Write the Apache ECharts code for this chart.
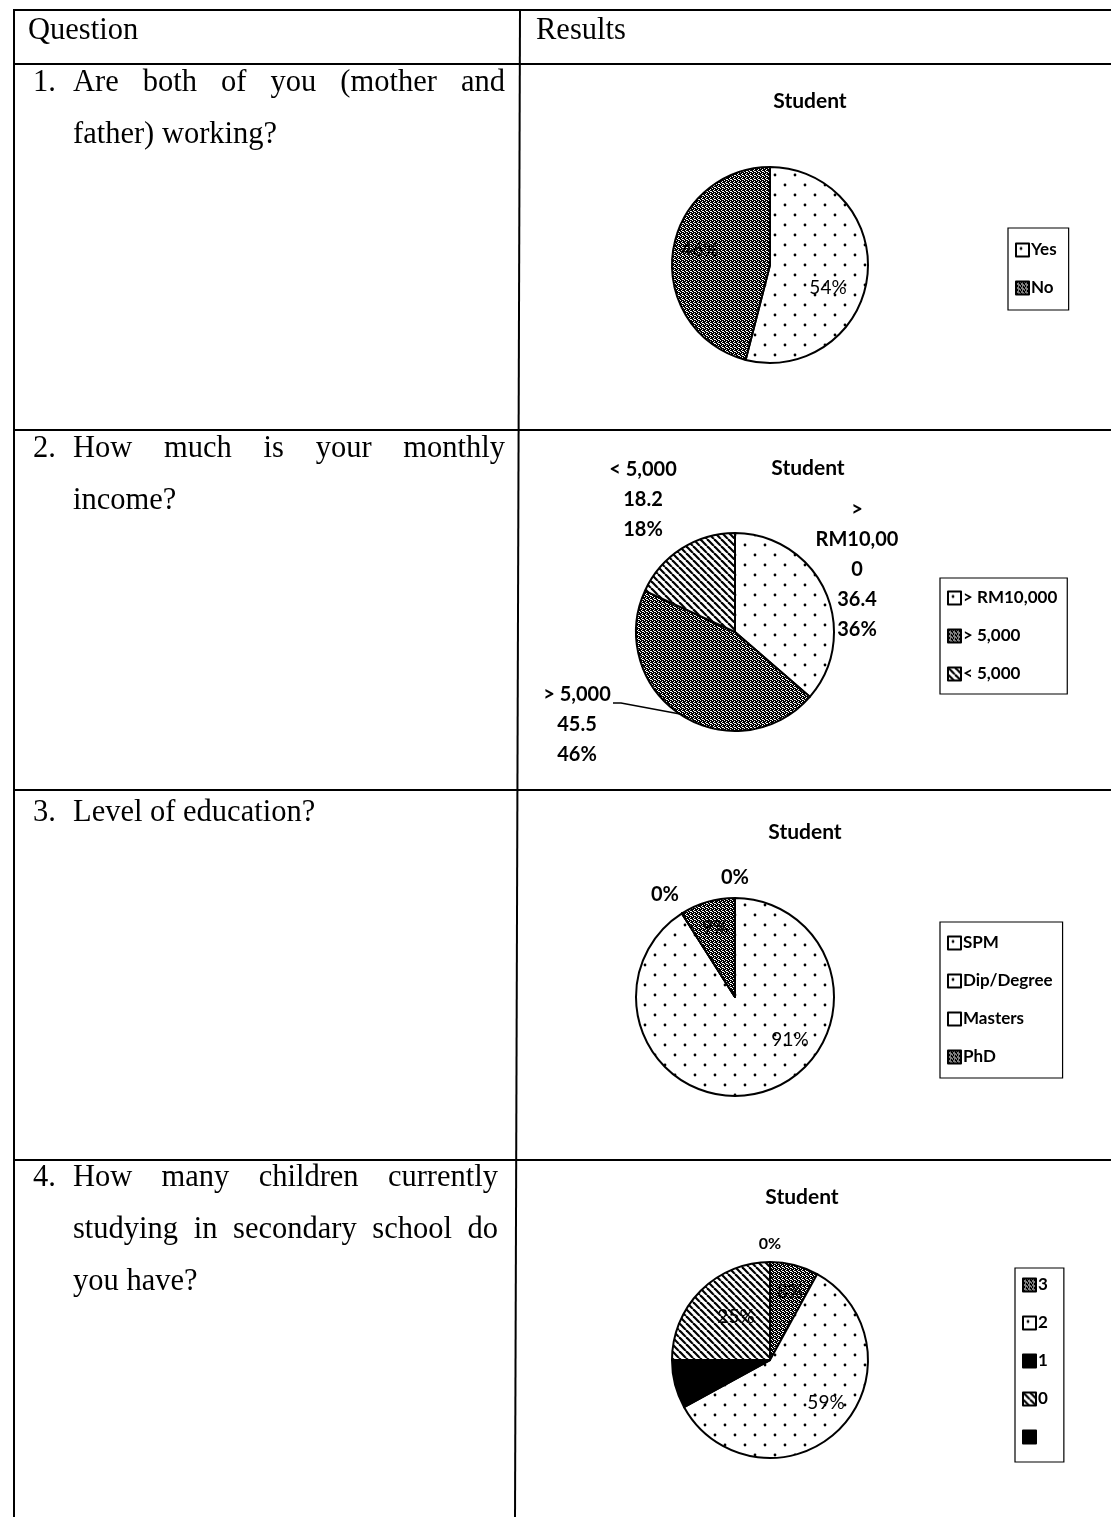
<!DOCTYPE html>
<html><head><meta charset="utf-8">
<script src="https://cdn.jsdelivr.net/npm/echarts@6/dist/echarts.min.js"></script>
<style>html,body{margin:0;padding:0;background:#fff}#c{width:1111px;height:1517px}</style>
</head><body><div id="c"></div>
<script>
// ---------- data ----------
const chartTitle = 'Student';
const q1Categories = ['Yes', 'No'];
const q1Values = [54, 46];
const q2Categories = ['> RM10,000', '> 5,000', '< 5,000'];
const q2Values = [36.4, 45.5, 18.2];
const q3Categories = ['SPM', 'Dip/Degree', 'Masters', 'PhD'];
const q3Values = [91, 0, 0, 9];
const q4Categories = ['3', '2', '1', '0', ' '];
const q4Values = [8, 59, 8, 25, 0];
const headerLabels = ['Question', 'Results'];
const questionTexts = [
  {num: '1.', lines: [['Are both of you (mother and', true], ['father) working?', false]]},
  {num: '2.', lines: [['How much is your monthly', true], ['income?', false]]},
  {num: '3.', lines: [['Level of education?', false]]},
  {num: '4.', lines: [['How many children currently', true], ['studying in secondary school do', true], ['you have?', false]]}
];

// ---------- styles ----------
const SANS = 'Lato';
const SERIF = 'Liberation Serif';
const SERIF_SIZE = 30.5;

function makePattern(kind) {
  if (kind === 'black') return '#000';
  if (kind === 'white') return '#fff';
  const c = document.createElement('canvas');
  let ctx;
  if (kind === 'dots') {
    c.width = 20; c.height = 20; ctx = c.getContext('2d');
    ctx.fillStyle = '#fff'; ctx.fillRect(0, 0, 20, 20);
    ctx.fillStyle = '#000';
    [[5, 5], [15, 15]].forEach(p => { ctx.beginPath(); ctx.arc(p[0], p[1], 1.4, 0, Math.PI * 2); ctx.fill(); });
  } else if (kind === 'stipple') {
    c.width = 4; c.height = 4; ctx = c.getContext('2d');
    ctx.fillStyle = '#000'; ctx.fillRect(0, 0, 4, 4);
    ctx.fillStyle = '#fff';
    [[0,0],[2,1],[1,2],[3,3],[2,3]].forEach(p => ctx.fillRect(p[0], p[1], 1, 1));
  } else if (kind === 'stripes') {
    c.width = 7; c.height = 7; ctx = c.getContext('2d');
    ctx.fillStyle = '#fff'; ctx.fillRect(0, 0, 7, 7);
    ctx.strokeStyle = '#000'; ctx.lineWidth = 2.2;
    [-7, 0, 7].forEach(o => { ctx.beginPath(); ctx.moveTo(o, 0); ctx.lineTo(o + 7, 7); ctx.stroke(); });
  }
  return {image: c, repeat: 'repeat'};
}

const P = {
  dots: makePattern('dots'), stipple: makePattern('stipple'),
  stripes: makePattern('stripes'), black: makePattern('black'), white: makePattern('white')
};

// per-pie layout (positions and styles only)
const pies = [
  {names: q1Categories, values: q1Values, center: [770, 265], r: 98, title: [810, 101],
   fills: [P.dots, P.stipple],
   labelOff: [[58, 23], [-70, -15]], bold: [false, false],
   legend: {left: 1008, top: 228, padding: [11, 12, 11, 7]},
   fmt: '{d}%'},
  {names: q2Categories, values: q2Values, center: [735, 632], r: 99, title: [808, 468],
   fills: [P.dots, P.stipple, P.stripes],
   labelOff: [[122, -62], [-158, 93], [-92, -132]], bold: [true, true, true],
   leader: {1: [[-122, 71], [-114, 71], [-55, 82]]},
   legend: {left: 940, top: 578, padding: [9, 10, 9, 7]},
   fmt: 'wrap'},
  {names: q3Categories, values: q3Values, center: [735, 997], r: 99, title: [805, 832],
   fills: [P.dots, P.dots, P.white, P.stipple],
   labelOff: [[55, 43], [-70, -102], [0, -119], [-20, -69]], bold: [false, true, true, false],
   legend: {left: 940, top: 922, padding: [10, 10, 10, 7]},
   fmt: '{d}%'},
  {names: q4Categories, values: q4Values, center: [770, 1360], r: 98, title: [802, 1197],
   fills: [P.stipple, P.dots, P.black, P.stripes, P.black],
   labelOff: [[20, -68], [56, 43], [-76, 20], [-34, -43], [0, -116]], bold: [false, false, false, false, true],
   small: [false, false, false, false, true],
   legend: {left: 1015, top: 1268, padding: [6, 16, 14, 7]},
   fmt: '{d}%'}
];

function wrapName(name, maxChars) {
  const out = [];
  let cur = '';
  name.split(' ').forEach(w => {
    const cand = cur ? cur + ' ' + w : w;
    if (cand.length <= maxChars) { cur = cand; return; }
    if (cur) out.push(cur);
    cur = '';
    while (w.length > maxChars) { out.push(w.slice(0, maxChars)); w = w.slice(maxChars); }
    cur = w;
  });
  if (cur) out.push(cur);
  return out.join('\n');
}

const series = [], titles = [], legends = [];
pies.forEach((p, k) => {
  const data = p.names.map((n, i) => ({
    name: n, value: p.values[i],
    itemStyle: {color: p.fills[i]},
    label: {
      fontWeight: p.bold[i] ? 'bold' : 'normal',
      fontSize: (p.small && p.small[i]) ? 16 : (p.bold[i] ? 20 : 19)
    },
    labelLine: {show: !!(p.leader && p.leader[i])}
  }));
  series.push({
    type: 'pie', center: p.center, radius: p.r, startAngle: 90, clockwise: true,
    percentPrecision: 0, silent: true, animation: false, avoidLabelOverlap: false,
    itemStyle: {borderColor: '#000', borderWidth: 2},
    label: {
      show: true, position: 'outside', color: '#000', fontFamily: SANS, lineHeight: 30, align: 'center',
      formatter: p.fmt === 'wrap' ? (prm => wrapName(prm.name, 7) + '\n' + prm.value + '\n' + prm.percent + '%') : p.fmt
    },
    labelLine: {lineStyle: {color: '#000', width: 1.5}, length: 10, length2: 10},
    labelLayout: prm => {
      const o = p.labelOff[prm.dataIndex];
      const res = {x: p.center[0] + o[0], y: p.center[1] + o[1], align: 'center', verticalAlign: 'middle'};
      if (p.leader && p.leader[prm.dataIndex]) {
        res.labelLinePoints = p.leader[prm.dataIndex].map(q => [p.center[0] + q[0], p.center[1] + q[1]]);
      }
      return res;
    },
    data: data
  });
  titles.push({
    text: chartTitle, left: p.title[0], top: p.title[1] - 10, textAlign: 'center', padding: 0,
    textStyle: {fontFamily: SANS, fontWeight: 'bold', fontSize: 21, color: '#000'}
  });
  legends.push(Object.assign({
    data: p.names, orient: 'vertical', icon: 'rect', itemWidth: 13, itemHeight: 13, itemGap: 16,
    borderColor: '#000', borderWidth: 1.2, selectedMode: false,
    itemStyle: {borderColor: '#000', borderWidth: 2},
    textStyle: {fontFamily: SANS, fontWeight: 'bold', fontSize: 17, color: '#000', lineHeight: 22, padding: [0, 0, 0, -3]}
  }, p.legend));
});

// ---------- table (graphic) ----------
const measureCtx = document.createElement('canvas').getContext('2d');
const serifFont = SERIF_SIZE + 'px "' + SERIF + '"';
measureCtx.font = serifFont;
function textEl(t, x, y) {
  return {type: 'text', x: x, y: y, silent: true,
    style: {text: t, font: serifFont, fill: '#000', textAlign: 'left', textVerticalAlign: 'middle'}};
}
function lineEl(x1, y1, x2, y2) {
  return {type: 'line', silent: true, shape: {x1, y1, x2, y2}, style: {stroke: '#000', lineWidth: 2}};
}
const graphics = [];
const rowLines = [10, 64, 430, 790, 1160];
rowLines.forEach(y => graphics.push(lineEl(13, y, 1111, y)));
graphics.push(lineEl(14, 9, 14, 1517));
graphics.push(lineEl(520, 9, 515, 1517));
graphics.push(textEl(headerLabels[0], 28, 31));
graphics.push(textEl(headerLabels[1], 536, 31));

const rowTextY = [83, 449, 813, 1178];
const lineStep = 52;
const rightEdge = [505, 505, 505, 498];
questionTexts.forEach((q, r) => {
  graphics.push(textEl(q.num, 33, rowTextY[r]));
  q.lines.forEach((ln, li) => {
    const y = rowTextY[r] + li * lineStep;
    const x0 = 73;
    if (!ln[1]) { graphics.push(textEl(ln[0], x0, y)); return; }
    const words = ln[0].split(' ');
    const widths = words.map(w => measureCtx.measureText(w).width);
    const total = widths.reduce((a, b) => a + b, 0);
    const gap = (rightEdge[r] - x0 - total) / (words.length - 1);
    let x = x0;
    words.forEach((w, i) => { graphics.push(textEl(w, x, y)); x += widths[i] + gap; });
  });
});

const chart = echarts.init(document.getElementById('c'), null, {renderer: 'canvas'});
chart.setOption({
  animation: false,
  backgroundColor: '#fff',
  title: titles,
  legend: legends,
  series: series,
  graphic: {elements: graphics}
});
</script></body></html>
